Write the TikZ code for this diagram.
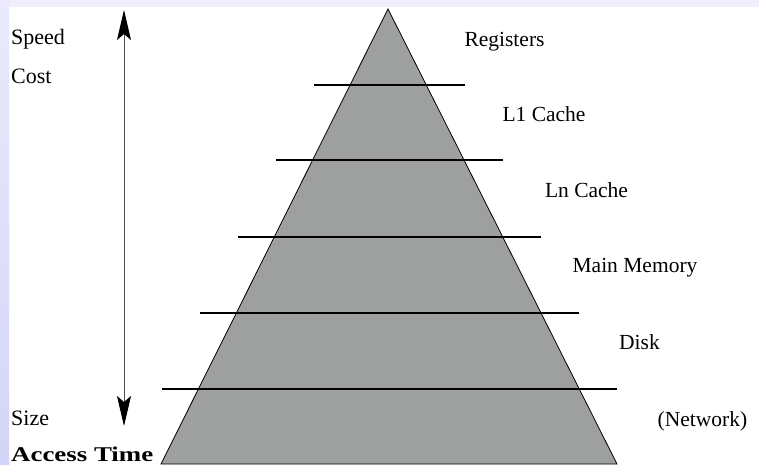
\documentclass[tikz,border=0pt]{standalone}
\usepackage{fontspec}
\setmainfont{Liberation Serif}
\usetikzlibrary{arrows.meta}
\definecolor{pyrgray}{RGB}{158,160,160}
\definecolor{bandtop}{RGB}{238,238,252}
\definecolor{bandA}{RGB}{234,234,252}
\definecolor{bandB}{RGB}{212,212,248}
\begin{document}
\begin{tikzpicture}[x=1pt,y=-1pt,
  lbl/.style={font=\fontsize{21.5}{24}\selectfont, inner sep=0pt, anchor=base},
  lbll/.style={font=\fontsize{22}{25}\selectfont, inner sep=0pt, anchor=base west},
  level/.style={line width=2pt, black},
  tip/.style={-{Stealth[length=30pt,width=14pt,inset=6pt,black]}}]
\useasboundingbox (0,0) rectangle (759,465);
\fill[white] (0,0) rectangle (759,465);
\fill[bandtop] (0,0) rectangle (759,7);
\shade[top color=bandA, bottom color=bandB] (0,0) rectangle (9,465);
% pyramid
\filldraw[fill=pyrgray, draw=black, line width=0.8pt] (388,9) -- (617,464) -- (161,464) -- cycle;
% level lines
\draw[level] (314,85) -- (465,85);
\draw[level] (276,160) -- (503,160);
\draw[level] (238,237) -- (541,237);
\draw[level] (200,313) -- (579,313);
\draw[level] (162,389) -- (617,389);
% arrow
\coordinate (amid) at (124,217);
\coordinate (atop) at (124,10);
\coordinate (abot) at (124,426);
\draw[tip, line width=1pt, black!70] (amid) -- (atop);
\draw[tip, line width=1pt, black!70] (amid) -- (abot);
% left labels
\node[lbll] (speed) at (11,45) {Speed};
\node[lbll] (cost) at (11,84) {Cost};
\node[lbll] (size) at (11,425) {Size};
\node[inner sep=0pt, anchor=base west] (access) at (11,461) {\scalebox{1.28}[1]{\fontsize{21}{24}\selectfont\bfseries Access Time}};
% right labels
\node[lbl] (reg) at (504.5,47) {Registers};
\node[lbl] (l1) at (544,122) {L1 Cache};
\node[lbl] (ln) at (586.5,197) {Ln Cache};
\node[lbl] (mm) at (635,272) {Main Memory};
\node[lbl] (disk) at (639.5,349) {Disk};
\node[lbl] (net) at (702.5,426) {(Network)};
\end{tikzpicture}
\end{document}
